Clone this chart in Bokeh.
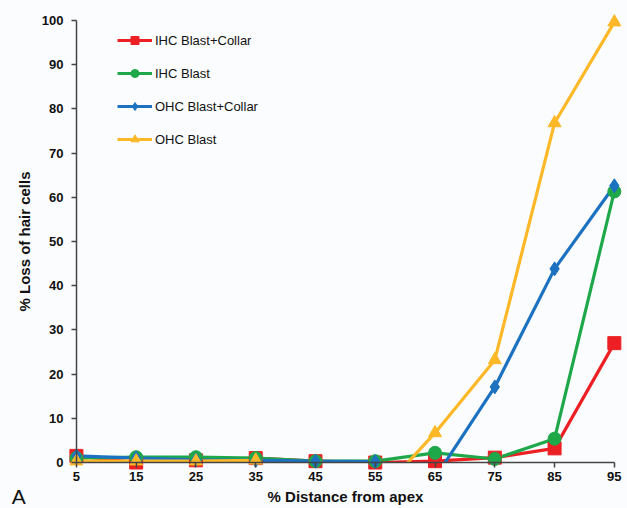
from bokeh.plotting import figure
from bokeh.models import (FixedTicker, Legend, LegendItem, Label, Range1d, ColumnDataSource,
                          CDSView, BooleanFilter)
from bokeh.embed import file_html
from bokeh.resources import INLINE

# ---- data ----
distance = [5, 15, 25, 35, 45, 55, 65, 75, 85, 95]
ihc_blast_collar = [1.5, 0.0, 0.5, 1.0, 0.3, 0.0, 0.3, 1.1, 3.2, 27.0]
ihc_blast = [1.0, 1.2, 1.2, 1.0, 0.3, 0.3, 2.2, 0.8, 5.4, 61.3]
ohc_blast_collar = [1.5, 1.0, 0.6, 0.5, 0.3, 0.2, -3.5, 17.1, 43.8, 62.6]
ohc_blast = [0.3, 0.3, 0.3, 0.5, -8.0, -8.0, 6.7, 23.2, 76.8, 99.6]
x_ticks = [5, 15, 25, 35, 45, 55, 65, 75, 85, 95]
y_ticks = [0, 10, 20, 30, 40, 50, 60, 70, 80, 90, 100]

series = [
    ("IHC Blast+Collar", ihc_blast_collar, "#ec2024", "square", 13),
    ("IHC Blast", ihc_blast, "#1fa84a", "circle", 13),
    ("OHC Blast+Collar", ohc_blast_collar, "#1c72c0", "diamond", 14),
    ("OHC Blast", ohc_blast, "#fdb827", "triangle", 13),
]

BG = "#fbfcfe"
FONT = "Liberation Sans"

x0, x1 = -7.7, 97.2
y0, y1 = -10.4, 104.5

p = figure(width=627, height=508, output_backend="svg", toolbar_location=None,
           x_range=Range1d(x0, x1), y_range=Range1d(y0, y1),
           min_border_left=0, min_border_right=0, min_border_top=0, min_border_bottom=0)
p.background_fill_color = BG
p.border_fill_color = BG
p.outline_line_color = None
p.xgrid.visible = False
p.ygrid.visible = False

# lines first
line_renderers = []
for name, vals, col, mk, sz in series:
    r = p.line(distance, vals, line_color=col, line_width=3.2)
    line_renderers.append(r)

# mask area below zero (the lines are clipped at the axis)
p.quad(left=[x0], right=[x1], bottom=[y0], top=[0], fill_color=BG, line_color=None)

# markers (only points inside the plotted range)
for name, vals, col, mk, sz in series:
    src = ColumnDataSource(data=dict(x=distance, y=vals))
    view = CDSView(filter=BooleanFilter([v >= 0 for v in vals]))
    p.scatter("x", "y", source=src, view=view, marker=mk, size=sz,
              fill_color=col, line_color=col, line_width=1)

# small legend markers (placeholder, not drawn in plot)
items = []
for (name, vals, col, mk, sz), lr in zip(series, line_renderers):
    src = ColumnDataSource(data=dict(x=[float("nan")], y=[float("nan")]))
    mr = p.scatter("x", "y", source=src, marker=mk, size=7, fill_color=col, line_color=col)
    items.append(LegendItem(label=name, renderers=[lr, mr]))

legend = Legend(items=items, location=(117, 359))
legend.glyph_width = 35
legend.glyph_height = 20
legend.spacing = 13
legend.label_standoff = 3
legend.padding = 0
legend.margin = 0
legend.border_line_color = None
legend.background_fill_alpha = 0
legend.label_text_font = FONT
legend.label_text_font_size = "13px"
legend.label_text_color = "#111111"
p.add_layout(legend)

# axes
xa = p.xaxis[0]
ya = p.yaxis[0]
xa.fixed_location = 0
ya.fixed_location = 5
xa.bounds = (5, 95)
ya.bounds = (0, 100)
xa.ticker = FixedTicker(ticks=x_ticks)
ya.ticker = FixedTicker(ticks=y_ticks)
for ax in (xa, ya):
    ax.axis_line_color = "#444444"
    ax.axis_line_width = 1.5
    ax.major_tick_line_color = "#444444"
    ax.major_tick_line_width = 1.5
    ax.major_tick_out = 5
    ax.major_tick_in = 0
    ax.minor_tick_line_color = None
    ax.major_label_text_font = FONT
    ax.major_label_text_font_style = "bold"
    ax.major_label_text_font_size = "13px"
    ax.major_label_text_color = "#111111"
    ax.axis_label_text_font = FONT
    ax.axis_label_text_font_style = "bold"
    ax.axis_label_text_font_size = "15px"
    ax.axis_label_text_color = "#111111"
xa.axis_label = "% Distance from apex"
ya.axis_label = "% Loss of hair cells"
xa.major_label_standoff = 4
ya.major_label_standoff = 8
xa.axis_label_standoff = 4
ya.axis_label_standoff = 6

p.add_layout(Label(x=-5.8, y=-10.3, text="A",
                   text_font=FONT, text_font_size="21px", text_color="#111111"))

open("out.html", "w").write(file_html(p, INLINE))
